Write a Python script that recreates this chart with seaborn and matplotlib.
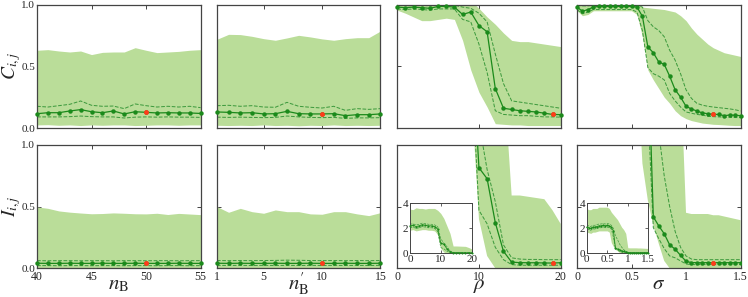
import numpy as np
import pandas as pd
import seaborn as sns
import matplotlib
matplotlib.use("Agg")
import matplotlib.pyplot as plt

# x grids
nb = list(range(40, 56))
nbp = list(range(1, 16))
rho = list(range(0, 21))
sigma = [0.0, 0.05, 0.1, 0.15, 0.2, 0.25, 0.3, 0.35, 0.4, 0.45, 0.5, 0.55,
         0.6, 0.65, 0.7, 0.75, 0.8, 0.85, 0.9, 0.95, 1.0, 1.05, 1.1, 1.15,
         1.2, 1.25, 1.3, 1.35, 1.4, 1.45, 1.5]

# C_ij (top row): mean, dashed upper/lower, shaded upper/lower
C_nb_mean = [0.116, 0.124, 0.124, 0.138, 0.149, 0.132, 0.124, 0.138, 0.114, 0.132,
             0.127, 0.122, 0.124, 0.122, 0.122, 0.118]
C_nb_hi = [0.176, 0.170, 0.181, 0.192, 0.219, 0.184, 0.176, 0.178, 0.157, 0.195,
           0.181, 0.170, 0.176, 0.170, 0.176, 0.165]
C_nb_lo = [0.09, 0.09, 0.09, 0.092, 0.097, 0.092, 0.09, 0.09, 0.081, 0.088,
           0.09, 0.088, 0.09, 0.088, 0.088, 0.086]
C_nb_fhi = [0.63, 0.635, 0.624, 0.616, 0.624, 0.595, 0.613, 0.616, 0.616, 0.651,
            0.63, 0.611, 0.616, 0.621, 0.63, 0.635]
C_nb_flo = [0.025, 0.027, 0.022, 0.025, 0.02, 0.025, 0.022, 0.025, 0.025, 0.02,
            0.022, 0.025, 0.025, 0.022, 0.025, 0.025]

C_nbp_mean = [0.130, 0.127, 0.122, 0.124, 0.114, 0.116, 0.135, 0.116, 0.114, 0.114,
              0.116, 0.100, 0.108, 0.108, 0.114]
C_nbp_hi = [0.181, 0.184, 0.176, 0.181, 0.170, 0.168, 0.208, 0.176, 0.168, 0.162,
            0.176, 0.143, 0.157, 0.151, 0.157]
C_nbp_lo = [0.088, 0.086, 0.088, 0.086, 0.084, 0.086, 0.097, 0.09, 0.086, 0.084,
            0.086, 0.078, 0.082, 0.082, 0.084]
C_nbp_fhi = [0.719, 0.759, 0.757, 0.743, 0.724, 0.711, 0.73, 0.751, 0.738, 0.722,
             0.711, 0.724, 0.732, 0.732, 0.786]
C_nbp_flo = [0.022, 0.02, 0.022, 0.02, 0.025, 0.02, 0.022, 0.018, 0.022, 0.02,
             0.025, 0.02, 0.022, 0.02, 0.022]

C_rho_mean = [0.98, 0.975, 0.98, 0.975, 0.97, 0.985, 0.985, 0.98, 0.92, 0.94, 0.83,
              0.78, 0.32, 0.16, 0.15, 0.14, 0.135, 0.13, 0.12, 0.11, 0.108]
C_rho_hi = [0.995, 0.995, 0.995, 0.995, 0.99, 0.995, 0.995, 0.995, 0.98, 0.97, 0.93,
            0.86, 0.6, 0.36, 0.22, 0.21, 0.2, 0.19, 0.18, 0.17, 0.16]
C_rho_lo = [0.965, 0.96, 0.965, 0.96, 0.955, 0.965, 0.965, 0.965, 0.88, 0.86, 0.68,
            0.45, 0.14, 0.11, 0.105, 0.1, 0.1, 0.095, 0.09, 0.09, 0.088]
C_rho_fhi = [1.05, 1.05, 1.05, 1.05, 1.05, 1.05, 1.05, 1.05, 1.05, 1.03, 0.97,
             0.9, 0.84, 0.77, 0.71, 0.70, 0.70, 0.69, 0.68, 0.67, 0.66]
C_rho_flo = [0.955, 0.93, 0.9, 0.87, 0.87, 0.88, 0.89, 0.88, 0.71, 0.47, 0.29,
             0.17, 0.035, 0.03, 0.025, 0.025, 0.02, 0.02, 0.02, 0.02, 0.02]

C_sig_mean = [0.98, 0.946, 0.96, 0.98, 0.985, 0.985, 0.985, 0.985, 0.985, 0.985, 0.985, 0.98,
              0.905, 0.657, 0.61, 0.535, 0.516, 0.42, 0.31, 0.25, 0.176, 0.154, 0.138,
              0.122, 0.116, 0.11, 0.11, 0.1, 0.105, 0.103, 0.1]
C_sig_hi = [0.995, 0.99, 0.99, 0.995, 0.995, 0.995, 0.995, 0.995, 0.995, 0.995, 0.995, 0.995,
            0.98, 0.87, 0.82, 0.79, 0.74, 0.63, 0.55, 0.44, 0.31, 0.24, 0.2,
            0.185, 0.176, 0.17, 0.165, 0.16, 0.155, 0.148, 0.138]
C_sig_lo = [0.96, 0.925, 0.94, 0.96, 0.96, 0.96, 0.96, 0.96, 0.96, 0.96, 0.96, 0.94,
            0.79, 0.49, 0.44, 0.42, 0.39, 0.28, 0.22, 0.17, 0.13, 0.12, 0.11,
            0.105, 0.095, 0.092, 0.09, 0.088, 0.087, 0.085, 0.084]
C_sig_fhi = [1.05, 1.05, 1.05, 1.05, 1.05, 1.05, 1.05, 1.05, 1.05, 1.05, 1.05, 1.0,
             0.98, 0.975, 0.97, 0.965, 0.96, 0.95, 0.94, 0.91, 0.87, 0.81, 0.76,
             0.72, 0.68, 0.65, 0.63, 0.61, 0.6, 0.59, 0.58]
C_sig_flo = [0.95, 0.91, 0.92, 0.95, 0.95, 0.95, 0.95, 0.95, 0.95, 0.95, 0.95, 0.92,
             0.74, 0.47, 0.39, 0.32, 0.25, 0.2, 0.14, 0.1, 0.076, 0.06, 0.05,
             0.04, 0.035, 0.03, 0.028, 0.025, 0.022, 0.02, 0.02]

# I_ij (bottom row)
I_nb_mean = [0.041, 0.04, 0.04, 0.041, 0.04, 0.04, 0.041, 0.04, 0.04, 0.041,
             0.04, 0.04, 0.04, 0.041, 0.04, 0.04]
I_nb_hi = [0.062, 0.061, 0.062, 0.062, 0.061, 0.062, 0.062, 0.061, 0.062, 0.062,
           0.061, 0.062, 0.062, 0.061, 0.062, 0.062]
I_nb_lo = [0.022, 0.022, 0.021, 0.022, 0.022, 0.021, 0.022, 0.022, 0.021, 0.022,
           0.022, 0.021, 0.022, 0.022, 0.021, 0.022]
I_nb_fhi = [0.497, 0.486, 0.465, 0.455, 0.448, 0.442, 0.444, 0.449, 0.446, 0.442,
            0.441, 0.446, 0.436, 0.445, 0.44, 0.435]
I_nb_flo = [0.0] * 16

I_nbp_mean = [0.041, 0.04, 0.041, 0.04, 0.04, 0.041, 0.04, 0.04, 0.041, 0.04,
              0.04, 0.041, 0.04, 0.04, 0.041]
I_nbp_hi = [0.063, 0.062, 0.063, 0.062, 0.063, 0.064, 0.066, 0.065, 0.063, 0.062,
            0.063, 0.062, 0.063, 0.062, 0.063]
I_nbp_lo = [0.024, 0.023, 0.024, 0.023, 0.024, 0.023, 0.024, 0.023, 0.024, 0.023,
            0.024, 0.023, 0.024, 0.023, 0.024]
I_nbp_fhi = [0.5, 0.454, 0.486, 0.459, 0.446, 0.473, 0.459, 0.459, 0.441, 0.438,
             0.459, 0.459, 0.441, 0.427, 0.451]
I_nbp_flo = [0.0] * 15

I_rho_mean = [2.2, 2.25, 2.15, 2.2, 2.3, 2.25, 2.2, 2.2, 2.15, 1.95, 0.815,
              0.726, 0.37, 0.138, 0.05, 0.046, 0.045, 0.045, 0.043, 0.043, 0.045]
I_rho_hi = [2.33, 2.37, 2.28, 2.33, 2.42, 2.38, 2.33, 2.33, 2.28, 2.15, 1.18,
            0.8, 0.54, 0.19, 0.085, 0.075, 0.072, 0.072, 0.07, 0.07, 0.07]
I_rho_lo = [2.05, 2.1, 2.0, 2.05, 2.15, 2.1, 2.05, 2.05, 2.0, 1.75, 0.47,
            0.36, 0.17, 0.07, 0.03, 0.025, 0.025, 0.025, 0.025, 0.025, 0.025]
I_rho_fhi = [3.55, 3.5, 3.65, 3.6, 3.6, 3.55, 3.6, 3.6, 3.6, 3.45, 3.2,
             2.8, 2.2, 1.6, 0.59, 0.59, 0.58, 0.57, 0.56, 0.47, 0.36]
I_rho_flo = [1.85, 1.9, 1.8, 1.85, 1.9, 1.9, 1.85, 1.85, 1.8, 1.5, 0.4,
             0.1, 0.0, 0.0, 0.0, 0.0, 0.0, 0.0, 0.0, 0.0, 0.0]

I_sig_mean = [2.1, 2.05, 2.0, 2.1, 2.1, 2.15, 2.2, 2.2, 2.25, 2.2, 2.25, 2.2, 2.1,
              1.8, 0.417, 0.344, 0.28, 0.19, 0.155, 0.105, 0.057, 0.046, 0.046,
              0.045, 0.046, 0.045, 0.046, 0.045, 0.046, 0.045, 0.046]
I_sig_hi = [2.25, 2.2, 2.15, 2.25, 2.25, 2.3, 2.35, 2.35, 2.4, 2.35, 2.4, 2.35, 2.25,
            2.0, 1.4, 1.1, 0.75, 0.5, 0.3, 0.17, 0.1, 0.075, 0.07,
            0.07, 0.07, 0.07, 0.07, 0.07, 0.07, 0.07, 0.07]
I_sig_lo = [1.95, 1.9, 1.85, 1.95, 1.95, 2.0, 2.05, 2.05, 2.1, 2.05, 2.1, 2.05, 1.95,
            1.3, 0.33, 0.24, 0.16, 0.1, 0.085, 0.06, 0.035, 0.03, 0.03,
            0.03, 0.03, 0.03, 0.03, 0.03, 0.03, 0.03, 0.03]
I_sig_fhi = [3.6, 3.5, 3.5, 3.6, 3.6, 3.6, 3.7, 3.7, 3.7, 3.7, 3.7, 3.6,
             3.3, 3.1, 2.9, 2.7, 2.4, 2.1, 1.9, 1.6, 0.45, 0.44, 0.44,
             0.44, 0.44, 0.43, 0.43, 0.42, 0.41, 0.40, 0.39]
I_sig_flo = [1.7, 1.65, 1.6, 1.7, 1.7, 1.75, 1.8, 1.8, 1.8, 1.8, 1.8, 1.7,
             0.85, 0.55, 0.35, 0.2, 0.06, 0.0, 0.0, 0.0, 0.0, 0.0, 0.0,
             0.0, 0.0, 0.0, 0.0, 0.0, 0.0, 0.0, 0.0]

# the highlighted (default) parameter value in each column
red_x = [50, 10, 19, 1.25]

xlims = [(40, 55), (1, 15), (0, 20), (0, 1.5)]
xticks = [[40, 45, 50, 55], [1, 5, 10, 15], [0, 10, 20], [0, 0.5, 1, 1.5]]
xticklabels = [["40", "45", "50", "55"], ["1", "5", "10", "15"],
               ["0", "10", "20"], ["0", "0.5", "1", "1.5"]]
xlabels = [r"$n_{\rm B}$", r"$n^{\prime}_{\rm B}$", r"$\rho$", r"$\sigma$"]
ylabels = [r"$C_{i,j}$", r"$I_{i,j}$"]

sns.set_style("ticks")
plt.rcParams["font.family"] = ["Liberation Serif", "DejaVu Serif"]
plt.rcParams["mathtext.fontset"] = "stix"
plt.rcParams["xtick.direction"] = "in"
plt.rcParams["ytick.direction"] = "in"
plt.rcParams["xtick.top"] = True
plt.rcParams["ytick.right"] = True

FILL = "#badd99"
LINE = "#1b8a1b"
DASH = "#3d9a3d"
RED = "#ff3b1a"

rows = [
    [(nb, C_nb_mean, C_nb_hi, C_nb_lo, C_nb_fhi, C_nb_flo),
     (nbp, C_nbp_mean, C_nbp_hi, C_nbp_lo, C_nbp_fhi, C_nbp_flo),
     (rho, C_rho_mean, C_rho_hi, C_rho_lo, C_rho_fhi, C_rho_flo),
     (sigma, C_sig_mean, C_sig_hi, C_sig_lo, C_sig_fhi, C_sig_flo)],
    [(nb, I_nb_mean, I_nb_hi, I_nb_lo, I_nb_fhi, I_nb_flo),
     (nbp, I_nbp_mean, I_nbp_hi, I_nbp_lo, I_nbp_fhi, I_nbp_flo),
     (rho, I_rho_mean, I_rho_hi, I_rho_lo, I_rho_fhi, I_rho_flo),
     (sigma, I_sig_mean, I_sig_hi, I_sig_lo, I_sig_fhi, I_sig_flo)],
]


def draw(ax, x, mean, hi, lo, fhi, flo, rx, top, small=False):
    lw = 0.6 if small else 0.9
    ms = 1.5 if small else 3.2
    # let the edge markers spill over the frame only when nothing leaves the box
    spill = max(mean) <= top
    ax.fill_between(x, flo, fhi, color=FILL, lw=0, zorder=1)
    ax.plot(x, hi, ls="--", color=DASH, lw=lw * 0.8, zorder=2)
    ax.plot(x, lo, ls="--", color=DASH, lw=lw * 0.8, zorder=2)
    df = pd.DataFrame({"x": x, "y": mean})
    sns.lineplot(data=df, x="x", y="y", ax=ax, color=LINE, lw=lw,
                 marker="o", markersize=ms, markeredgewidth=0, zorder=3,
                 clip_on=not spill)
    if not small:
        i = x.index(rx)
        ax.plot([x[i]], [mean[i]], "o", color=RED, ms=ms * 1.1, mew=0,
                zorder=4, clip_on=False)


fig = plt.figure(figsize=(7.48, 2.97), dpi=100)
lefts = [0.0495, 0.290, 0.531, 0.7714]
bottoms = [0.569, 0.0966]
w, h = 0.2186, 0.4155

for r in range(2):
    for c in range(4):
        ax = fig.add_axes([lefts[c], bottoms[r], w, h])
        x, mean, hi, lo, fhi, flo = rows[r][c]
        draw(ax, x, mean, hi, lo, fhi, flo, red_x[c], 1.0)
        ax.set_xlim(*xlims[c])
        ax.set_ylim(0, 1)
        ax.set_xticks(xticks[c])
        ax.set_yticks([0, 0.5, 1])
        ax.tick_params(length=3, width=0.6, labelsize=8.5, pad=2)
        ax.tick_params(axis="y", labelsize=8, pad=1.5)
        for sp in ax.spines.values():
            sp.set_color("#444444")
            sp.set_linewidth(0.9)
        if r == 1:
            ax.set_xticklabels(xticklabels[c])
            ax.set_xlabel(xlabels[c], fontsize=15, va="baseline")
            ax.xaxis.set_label_coords(0.5, -0.17)
        else:
            ax.set_xticklabels([])
            ax.set_xlabel("")
        if c == 0:
            ax.set_yticklabels(["0.0", "0.5", "1.0"])
            ax.set_ylabel(ylabels[r], fontsize=14)
            ax.yaxis.set_label_coords(-0.088, 0.5)
        else:
            ax.set_yticklabels([])
            ax.set_ylabel("")

        # insets with the full range of I_ij
        if r == 1 and c >= 2:
            il = [0.548, 0.7843][c - 2]
            ins = fig.add_axes([il, 0.147, 0.0825, 0.168])
            draw(ins, x, mean, hi, lo, fhi, flo, red_x[c], 4.0, small=True)
            ins.set_xlim(*xlims[c])
            ins.set_ylim(0, 4)
            ins.set_xticks(xticks[c])
            ins.set_xticklabels(xticklabels[c])
            ins.set_yticks([0, 2, 4])
            ins.set_yticklabels(["0", "2", "4"])
            ins.set_xlabel("")
            ins.set_ylabel("")
            ins.tick_params(length=2, width=0.5, labelsize=8, pad=1)
            for sp in ins.spines.values():
                sp.set_color("#444444")
                sp.set_linewidth(0.7)

fig.savefig("out.png", dpi=100)
